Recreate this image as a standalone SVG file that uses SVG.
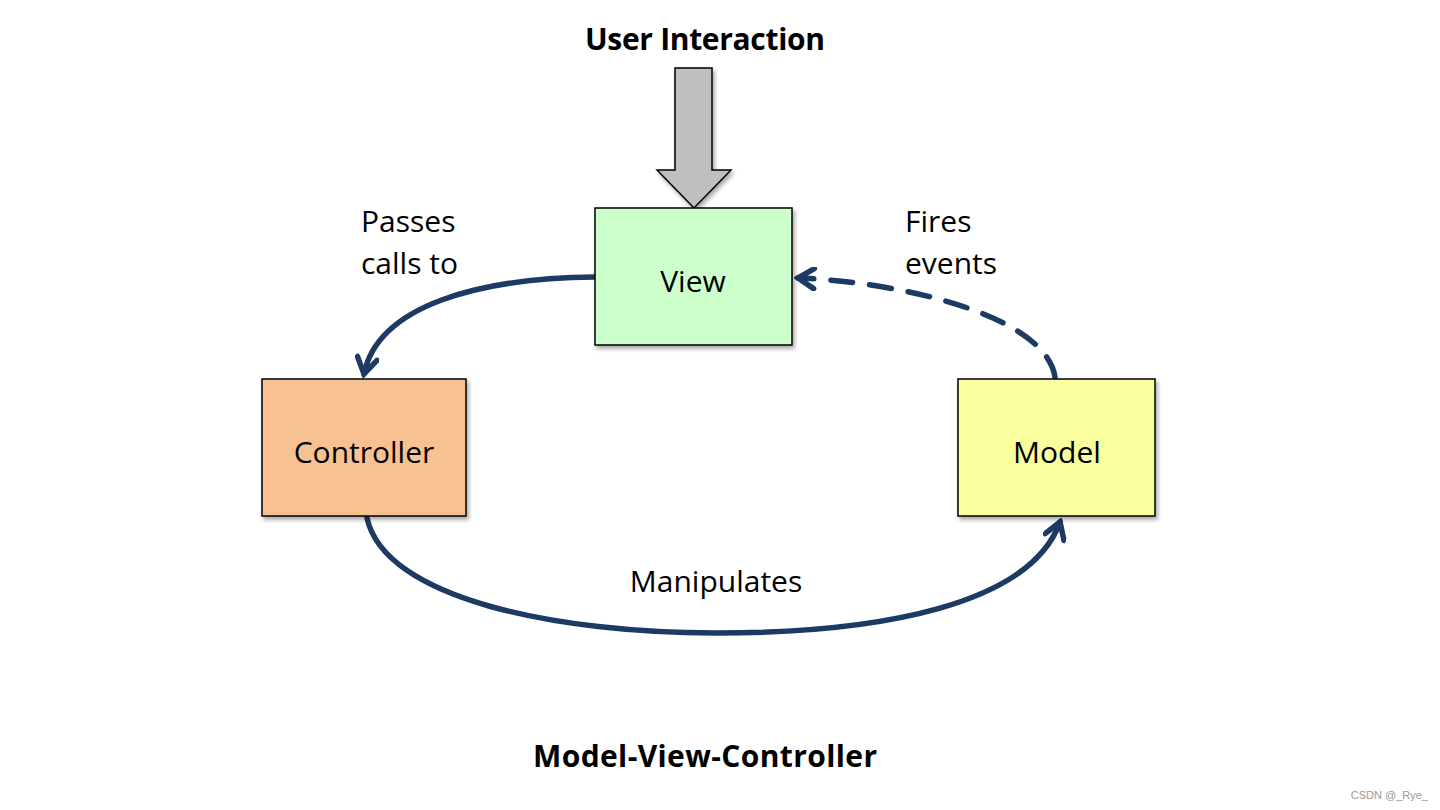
<svg xmlns="http://www.w3.org/2000/svg" width="1440" height="810" viewBox="0 0 1440 810">
<defs>
<filter id="sh" x="-10%" y="-10%" width="130%" height="130%">
<feDropShadow dx="2" dy="3" stdDeviation="2" flood-color="#000" flood-opacity="0.35"/>
</filter>
<marker id="ah" markerUnits="userSpaceOnUse" viewBox="-20 -12 24 24" markerWidth="24" markerHeight="24" refX="0" refY="0" orient="auto">
<polyline points="-16,-10 0,0 -16,10" fill="none" stroke="#1C3A63" stroke-width="5.5" stroke-linecap="round" stroke-linejoin="miter"/>
</marker>
</defs>
<style>
.box{stroke:#000;stroke-width:1.5}
.lbl{font-family:"Open Sans","Liberation Sans",sans-serif;font-size:30px;fill:#000}
.ttl{font-family:"Open Sans","Liberation Sans",sans-serif;font-size:30px;font-weight:bold;fill:#000}
.con{fill:none;stroke:#1C3A63;stroke-width:5.5;stroke-linecap:round}
</style>
<rect width="1440" height="810" fill="#fff"/>
<text class="ttl" x="705" y="50" text-anchor="middle" textLength="240">User Interaction</text>
<g id="input-arrow">
<polygon points="675,68 712,68 712,170 731,170 694,208 657,170 675,170" fill="#BFBFBF" stroke="#000" stroke-width="1.5" filter="url(#sh)"/>
</g>
<g id="connectors">
<path class="con" d="M595,277 C480,278 378,305 364,374" marker-end="url(#ah)"/>
<path class="con" d="M367,518 C385,600 560,633 716,633 C880,633 1030,605 1060,522" marker-end="url(#ah)"/>
<path class="con" d="M1055,377 C1045,315 900,282 798,278" stroke-dasharray="22,17" marker-end="url(#ah)"/>
</g>
<g id="view">
<rect class="box" x="595" y="208" width="197" height="137" fill="#CCFFCC" filter="url(#sh)"/>
<text class="lbl" x="693" y="292" text-anchor="middle">View</text>
</g>
<g id="controller">
<rect class="box" x="262" y="379" width="204" height="137" fill="#F8C191" filter="url(#sh)"/>
<text class="lbl" x="364" y="463" text-anchor="middle">Controller</text>
</g>
<g id="model">
<rect class="box" x="958" y="379" width="197" height="137" fill="#F9FF9F" filter="url(#sh)"/>
<text class="lbl" x="1057" y="463" text-anchor="middle">Model</text>
</g>
<text class="lbl" x="361" y="232">Passes</text>
<text class="lbl" x="361" y="274">calls to</text>
<text class="lbl" x="905" y="232">Fires</text>
<text class="lbl" x="905" y="274">events</text>
<text class="lbl" x="716" y="592" text-anchor="middle">Manipulates</text>
<text class="ttl" x="705" y="767" text-anchor="middle" textLength="344">Model-View-Controller</text>
<text x="1428" y="799" text-anchor="end" font-family="Liberation Sans, sans-serif" font-size="11" fill="#999">CSDN @_Rye_</text>
</svg>
